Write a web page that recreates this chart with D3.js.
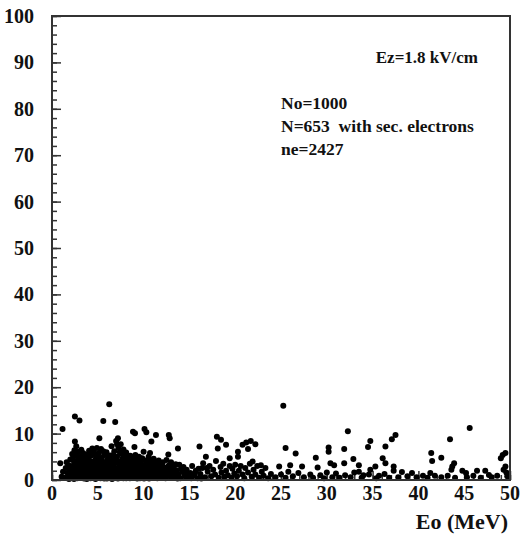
<!DOCTYPE html>
<html>
<head>
<meta charset="utf-8">
<script src="https://cdnjs.cloudflare.com/ajax/libs/d3/7.8.5/d3.min.js"></script>
<style>
  body { margin: 0; background: #fff; }
  svg text { font-family: "Liberation Serif", "Times New Roman", serif; font-weight: bold; fill: #111; white-space: pre; }
</style>
</head>
<body>
<div id="chart"></div>
<script>
// events: [Eo (MeV), number of secondary electrons]
var lowEnergy = [
  [0.9,3.6],[1.05,0.7],[1.2,1.8],[1.4,0.5],[1.5,2.6],[1.15,11.0],
  [1.7,0.6],[1.7,1.5],[1.8,3.2],[1.9,2.2],[2.0,0.4],[2.0,4.4],[2.1,1.3],[2.2,3.0],[2.2,5.6],
  [2.3,0.8],[2.35,2.1],[2.4,4.0],[2.45,6.4],[2.5,8.3],[2.55,1.2],[2.6,3.2],[2.65,7.3],[2.7,5.2],[2.75,0.4],[2.8,2.4],[2.85,4.3],[2.9,6.1],
  [2.5,13.7],[3.0,12.8],
  [3.0,1.5],[3.05,3.4],[3.1,0.5],[3.15,5.0],[3.2,2.5],[3.3,4.1],[3.35,1.1],[3.4,5.8],[3.45,3.0],[3.5,0.3],[3.55,2.0],[3.6,4.6],
  [3.7,1.3],[3.75,3.6],[3.8,5.5],[3.9,0.6],[3.95,2.6],[4.0,4.4],[4.05,6.3],[4.1,1.6],[4.15,3.3],[4.2,0.4],[4.25,5.2],[4.3,2.3],
  [4.4,6.8],[4.45,1.0],[4.5,3.9],[4.55,2.0],[4.6,5.6],[4.7,0.5],[4.75,3.0],[4.8,4.7],[4.85,1.6],[4.9,6.9],[4.95,2.5],[5.0,0.8],
  [5.05,4.0],[5.1,5.8],[5.17,9.0],[5.2,1.9],[5.25,3.2],[5.3,0.4],[5.35,6.7],[5.4,2.7],[5.45,4.8],[5.5,1.2],[5.55,3.7],[5.6,12.7],
  [5.65,0.6],[5.7,5.4],[5.75,2.2],[5.8,3.9],[5.9,1.4],[5.95,6.0],[6.0,0.3],[6.05,2.9],[6.1,4.5],[6.2,1.8],[6.25,16.3],[6.3,3.5],
  [6.35,0.9],[6.4,5.3],[6.45,2.5],[6.5,7.3],[6.55,1.4],[6.6,4.2],[6.7,0.4],[6.75,3.0],[6.8,6.2],[6.85,1.9],[6.9,12.5],[6.95,3.8],[7.0,8.4],
  [7.05,0.8],[7.1,5.0],[7.15,2.4],[7.2,9.0],[7.25,6.9],[7.3,1.3],[7.35,4.0],[7.4,0.5],[7.45,3.0],[7.5,7.7],[7.55,1.9],[7.6,5.6],[7.7,3.6],
  [7.75,0.9],[7.8,6.6],[7.85,2.6],[7.9,4.6],[8.0,1.5],[8.05,5.4],[8.1,0.4],[8.2,3.3],[8.25,2.1],[8.3,4.8],[8.4,1.0],[8.5,2.8]
];
var lowEnergyFill = [
  [1.6,3.8],[1.85,0.2],[2.05,2.7],[2.15,1.9],[2.3,4.8],[2.4,0.2],[2.55,5.8],[2.6,2.7],[2.7,1.7],[2.8,3.6],[2.95,0.9],[3.0,4.9],
  [3.1,2.2],[3.2,6.5],[3.25,0.9],[3.4,3.6],[3.5,1.5],[3.6,5.2],[3.7,2.4],[3.8,0.2],[3.85,4.2],[4.0,1.1],[4.1,5.6],[4.2,2.8],
  [4.3,0.9],[4.35,4.0],[4.5,1.5],[4.55,6.1],[4.65,2.6],[4.75,0.2],[4.85,3.6],[5.0,5.2],[5.05,1.4],[5.15,2.6],[5.3,4.3],[5.4,0.9],
  [5.5,2.2],[5.6,6.2],[5.7,0.3],[5.85,3.0],[6.0,1.9],[6.1,5.2],[6.2,0.6],[6.3,2.4],[6.4,4.0],[6.55,0.2],[6.6,2.9],[6.7,5.4],
  [6.8,1.3],[6.9,4.4],[7.0,2.2],[7.1,7.7],[7.2,0.3],[7.3,3.4],[7.4,6.0],[7.5,1.2],[7.6,2.6],[7.7,4.6],[7.8,0.4],[7.9,1.9],
  [8.0,3.7],[8.1,5.9],[8.2,1.2],[8.35,2.7],[8.45,4.0],[8.5,0.4],[8.65,2.8],[8.8,1.1],[8.95,3.5],[9.1,5.4],[9.15,2.0],[9.3,0.3],
  [9.4,3.6],[9.55,1.8],[9.6,4.2],[9.75,0.9],[9.9,2.8],[10.05,0.3],[10.15,3.0],[10.3,1.2],[10.45,2.8],[10.6,0.3],[10.6,4.2],[10.8,1.8],
  [11.0,0.9],[11.15,2.9],[11.3,4.0],[11.45,1.7],[11.6,0.9],[11.75,2.2],[12.0,3.3],[12.15,0.5],[12.35,1.8],[12.55,0.9],[12.65,2.6],[12.9,1.4],
  [13.1,2.6],[13.35,1.2],[13.5,3.4],[13.7,0.3],[14.1,2.4],[14.4,1.5],[14.8,1.2],[15.2,0.4],[15.6,1.4],[16.0,2.4],[16.3,0.3],[16.9,2.6]
];
var midEnergy = [
  [8.55,5.2],[8.6,1.6],[8.7,3.9],[8.75,0.5],[8.84,10.4],[8.85,2.4],[8.9,4.6],[9.0,7.1],[9.0,1.2],[9.06,10.1],[9.1,3.3],[9.2,0.7],
  [9.25,2.2],[9.3,4.3],[9.4,1.3],[9.45,3.0],[9.5,5.0],[9.6,0.4],[9.65,2.5],[9.7,3.8],[9.8,1.7],[9.85,4.7],[9.9,0.8],[10.0,6.1],[10.0,3.1],
  [10.1,11.0],[10.3,10.3],[10.85,8.3],[11.35,9.7],[12.75,9.7],[12.85,9.0],
  [10.1,1.4],[10.2,4.2],[10.25,2.3],[10.35,0.5],[10.4,3.5],[10.5,1.8],[10.55,5.0],[10.7,5.8],[10.7,0.9],[10.75,2.8],[10.85,4.0],[10.9,1.5],[11.0,3.2],
  [11.05,0.5],[11.1,4.6],[11.2,2.2],[11.3,1.0],[11.4,3.6],[11.5,0.4],[11.55,2.6],[11.65,4.2],[11.7,1.4],[11.8,3.0],[11.9,0.7],[12.0,2.0],
  [12.1,3.8],[12.2,1.1],[12.3,2.7],[12.4,0.4],[12.5,4.3],[12.6,1.7],[12.7,5.5],[12.75,3.1],[12.85,0.8],[12.95,2.2],[13.0,3.8],[13.1,0.5],
  [13.2,1.6],[13.3,2.9],[13.45,0.6],[13.6,2.1],[13.75,6.8],[13.8,1.2],[13.9,3.3],[14.0,0.4],[14.2,1.9],[14.35,2.8],[14.5,0.8],
  [14.7,2.2],[14.9,0.5],[15.1,1.5],[15.3,3.0],[15.5,0.9],[15.7,2.0],[15.9,0.4],[16.1,7.2],[16.2,1.3],[16.4,2.6],[16.5,3.6],
  [16.8,5.0],[16.7,0.6],[17.0,1.8],[17.2,3.0],[17.4,0.8],[17.6,2.2],[17.9,4.1],[17.8,1.2],[18.0,9.3],[18.1,6.8],[18.2,0.5],[18.45,8.7],[18.4,2.8],[18.5,1.6],
  [18.7,3.5],[18.8,0.7],[19.0,7.6],[19.0,2.0],[19.2,1.0],[19.4,4.7],[19.4,3.0],[19.6,0.5],[19.7,2.4],[19.9,1.4],[20.0,3.3],
  [20.2,0.8],[20.3,6.1],[20.3,5.0],[20.4,2.0],[20.6,3.0],[20.8,7.6],[20.8,1.2],[21.0,0.4],[21.1,2.6],[21.2,8.1],[21.4,6.7],[21.4,1.6],[21.6,3.5],[21.7,8.4],[21.8,0.7],[21.9,4.0],[22.0,2.2],
  [22.2,7.7],[22.2,1.2],[22.4,3.0],[22.6,0.5],[22.8,3.2],[22.9,1.8],[23.1,0.9],[23.3,2.6],[23.6,0.4],[23.9,1.3]
];
var highEnergy = [
  [24.4,0.6],[24.8,2.9],[25.0,1.2],[25.25,16.0],[25.5,6.9],[25.5,0.5],[25.8,1.8],[26.0,3.2],
  [26.3,0.8],[26.6,5.7],[26.9,1.5],[27.3,2.9],[27.5,0.6],[28.2,1.2],[28.5,0.5],[28.8,4.8],[29.0,2.7],[29.3,1.0],[29.7,0.4],[30.0,1.6],
  [30.2,7.0],[30.2,6.1],[30.4,3.6],[30.8,3.2],[30.6,0.6],[31.0,1.4],[31.4,0.5],[31.9,6.7],[31.9,3.6],[32.0,1.0],[32.3,10.5],[32.6,0.6],[32.9,4.5],[33.0,1.6],[33.5,3.2],[33.5,1.8],[33.8,0.5],
  [34.0,1.0],[34.5,7.1],[34.75,8.4],[34.6,1.2],[34.75,2.2],[35.3,2.9],[35.7,0.9],[35.4,0.4],[36.1,4.7],[36.4,3.6],[36.4,7.2],[36.3,1.3],[37.1,8.8],[37.5,9.7],[37.3,2.9],[37.3,2.0],[36.8,0.5],[38.2,1.7],[37.8,0.6],
  [38.8,0.8],[39.3,1.5],[39.8,0.6],[40.5,0.9],[41.3,1.5],[41.4,5.8],[41.5,4.1],[41.0,0.5],[41.8,0.9],
  [42.5,4.8],[42.5,0.6],[43.2,0.9],[43.45,8.8],[43.9,3.6],[43.7,2.9],[43.6,2.2],[44.0,0.5],[44.8,2.0],[45.2,1.5],[45.6,11.2],[45.3,0.6],[46.0,0.9],[46.4,2.0],[46.8,0.5],
  [47.3,2.0],[47.7,1.1],[48.0,0.6],[48.6,0.9],[49.0,4.7],[49.2,5.4],[49.5,5.8],[49.5,2.9],[49.3,2.2],[49.7,0.8],[49.6,1.6]
];

var xTicks = [0, 5, 10, 15, 20, 25, 30, 35, 40, 45, 50];
var yTicks = [0, 10, 20, 30, 40, 50, 60, 70, 80, 90, 100];
var notes = ["No=1000", "N=653  with sec. electrons", "ne=2427"];
var fieldLabel = "Ez=1.8 kV/cm";
var xTitle = "Eo (MeV)";

var margin = {top: 16, right: 10, bottom: 56, left: 52};
var width = 520, height = 536;
var w = width - margin.left - margin.right;
var h = height - margin.top - margin.bottom;

var svg = d3.select("#chart").append("svg")
    .attr("width", width)
    .attr("height", height)
    .append("g")
    .attr("transform", "translate(" + margin.left + "," + margin.top + ")");

var x = d3.scaleLinear().domain([0, 50]).range([0, w]);
var y = d3.scaleLinear().domain([0, 100]).range([h, 0]);

var axisColor = "#333";

// minor ticks (inward)
var yAxisMinor = d3.axisRight(y).ticks(50).tickSize(5).tickFormat("");
var yAxisMajor = d3.axisRight(y).tickValues(yTicks).tickSize(9).tickFormat("");
var xAxisMinor = d3.axisTop(x).ticks(50).tickSize(5).tickFormat("");
var xAxisMajor = d3.axisTop(x).tickValues(xTicks).tickSize(9).tickFormat("");

[yAxisMinor, yAxisMajor].forEach(function(a) {
    svg.append("g").call(a)
        .call(function(g) { g.select(".domain").remove(); })
        .selectAll("line").attr("stroke", axisColor).attr("stroke-width", 1.5);
});
[xAxisMinor, xAxisMajor].forEach(function(a) {
    svg.append("g").attr("transform", "translate(0," + h + ")").call(a)
        .call(function(g) { g.select(".domain").remove(); })
        .selectAll("line").attr("stroke", axisColor).attr("stroke-width", 1.5);
});

// points
var allPoints = lowEnergy.concat(lowEnergyFill, midEnergy, highEnergy);
svg.append("g").selectAll("circle")
    .data(allPoints)
    .enter()
    .append("circle")
    .attr("cx", function(d) { return x(d[0]); })
    .attr("cy", function(d) { return y(d[1]); })
    .attr("r", 3)
    .attr("fill", "#000");

// frame
svg.append("rect")
    .attr("x", 0).attr("y", 0)
    .attr("width", w).attr("height", h)
    .attr("fill", "none")
    .attr("stroke", axisColor)
    .attr("stroke-width", 2);

// tick labels
svg.append("g").selectAll("text")
    .data(yTicks)
    .enter()
    .append("text")
    .attr("x", -18)
    .attr("y", function(d) { return y(d); })
    .attr("dy", "0.35em")
    .attr("text-anchor", "end")
    .style("font-size", "20px")
    .text(function(d) { return d; });

svg.append("g").selectAll("text")
    .data(xTicks)
    .enter()
    .append("text")
    .attr("x", function(d) { return x(d); })
    .attr("y", h + 20)
    .attr("text-anchor", "middle")
    .style("font-size", "20px")
    .text(function(d) { return d; });

svg.append("text")
    .attr("x", w - 2)
    .attr("y", h + 49)
    .attr("text-anchor", "end")
    .style("font-size", "22px")
    .text(xTitle);

svg.append("text")
    .attr("x", 426)
    .attr("y", 47)
    .attr("text-anchor", "end")
    .style("font-size", "17px")
    .text(fieldLabel);

svg.append("g").selectAll("text")
    .data(notes)
    .enter()
    .append("text")
    .attr("x", 229)
    .attr("y", function(d, i) { return 93 + i * 23; })
    .style("font-size", "17.5px")
    .text(function(d) { return d; });
</script>
</body>
</html>
